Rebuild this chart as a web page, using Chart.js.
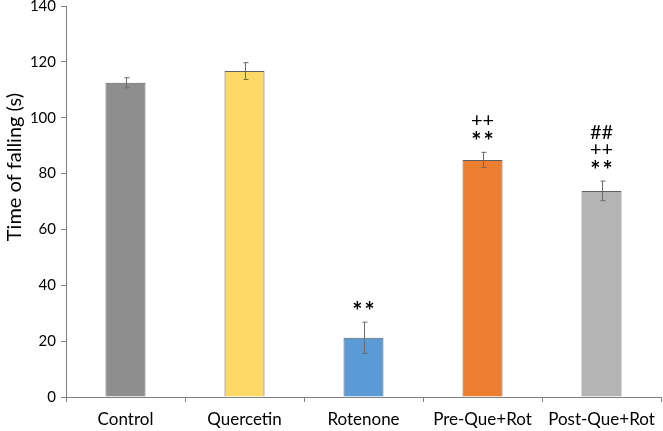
<!DOCTYPE html>
<html>
<head>
<meta charset="utf-8">
<script src="https://cdn.jsdelivr.net/npm/chart.js@4"></script>
<style>
  html, body { margin: 0; padding: 0; background: #ffffff; }
  #wrap { width: 663px; height: 431px; }
</style>
</head>
<body>
<div id="wrap"><canvas id="c" width="663" height="431"></canvas></div>
<script>
const categories = ['Control', 'Quercetin', 'Rotenone', 'Pre-Que+Rot', 'Post-Que+Rot'];
const means = [112.5, 116.7, 21.2, 84.9, 73.8];
const errors = [1.8, 3.0, 5.6, 2.7, 3.5];
const marks = [[], [], ['**'], ['**', '++'], ['**', '++', '##']];
const yTitle = 'Time of falling (s)';
const barColors = ['#8E8E8E', '#FFD966', '#5B9BD5', '#ED7D31', '#B4B4B4'];

const FONT = 'Lato, "Liberation Sans", sans-serif';

const overlay = {
  id: 'overlay',
  afterDatasetsDraw(chart) {
    const ctx = chart.ctx;
    const x = chart.scales.x, y = chart.scales.y;
    ctx.save();
    // error bars
    ctx.strokeStyle = '#6a6a6a';
    ctx.lineWidth = 1;
    means.forEach((m, i) => {
      const cx = Math.round(x.getPixelForValue(i)) + 0.5;
      const yt = y.getPixelForValue(m + errors[i]);
      const yb = y.getPixelForValue(m - errors[i]);
      ctx.beginPath();
      ctx.moveTo(cx, yt); ctx.lineTo(cx, yb);
      ctx.moveTo(cx - 2, yt); ctx.lineTo(cx + 3, yt);
      ctx.moveTo(cx - 2, yb); ctx.lineTo(cx + 3, yb);
      ctx.stroke();
    });
    // significance marks
    ctx.fillStyle = '#000000';
    ctx.textAlign = 'center';
    ctx.textBaseline = 'middle';
    marks.forEach((list, i) => {
      const cx = x.getPixelForValue(i);
      const yt = y.getPixelForValue(means[i] + errors[i]);
      list.forEach((s, k) => {
        if (s === '**') {
          ctx.font = 'bold 24px ' + FONT;
          ctx.letterSpacing = '2px';
          ctx.fillText(s, cx + 1, yt - 10);
        } else {
          ctx.font = '20px ' + FONT;
          ctx.letterSpacing = '0px';
          ctx.fillText(s, cx, yt - 14 - k * 17.5);
        }
      });
    });
    ctx.letterSpacing = '0px';
    // y title
    ctx.font = '20px ' + FONT;
    ctx.fillStyle = '#000000';
    ctx.translate(15, 167);
    ctx.rotate(-Math.PI / 2);
    ctx.fillText(yTitle, 0, 0);
    ctx.restore();
  }
};

new Chart(document.getElementById('c'), {
  type: 'bar',
  data: {
    labels: categories,
    datasets: [{
      data: means,
      backgroundColor: barColors,
      borderColor: '#5f5f5f',
      borderWidth: 1,
      borderSkipped: 'bottom',
      barPercentage: 0.336,
      categoryPercentage: 1.0
    }]
  },
  options: {
    responsive: false,
    animation: false,
    devicePixelRatio: 1,
    layout: { padding: { top: 6, right: 2, left: 0, bottom: 0 } },
    plugins: { legend: { display: false }, tooltip: { enabled: false } },
    scales: {
      x: {
        offset: true,
        grid: { offset: true, drawOnChartArea: false, drawTicks: true, tickLength: 5, color: '#7f7f7f' },
        border: { color: '#7f7f7f', width: 1 },
        ticks: { color: '#000000', font: { family: FONT, size: 17 }, padding: 7, maxRotation: 0, autoSkip: false },
        afterFit(s) { s.height = 34; }
      },
      y: {
        min: 0, max: 140,
        ticks: { stepSize: 20, color: '#000000', font: { family: FONT, size: 15 }, padding: 5 },
        grid: { drawOnChartArea: false, drawTicks: true, tickLength: 5, color: '#7f7f7f' },
        border: { color: '#7f7f7f', width: 1 },
        afterFit(s) { s.width = 66; s.paddingTop = 0; s.paddingBottom = 0; }
      }
    }
  },
  plugins: [overlay]
});
</script>
</body>
</html>
